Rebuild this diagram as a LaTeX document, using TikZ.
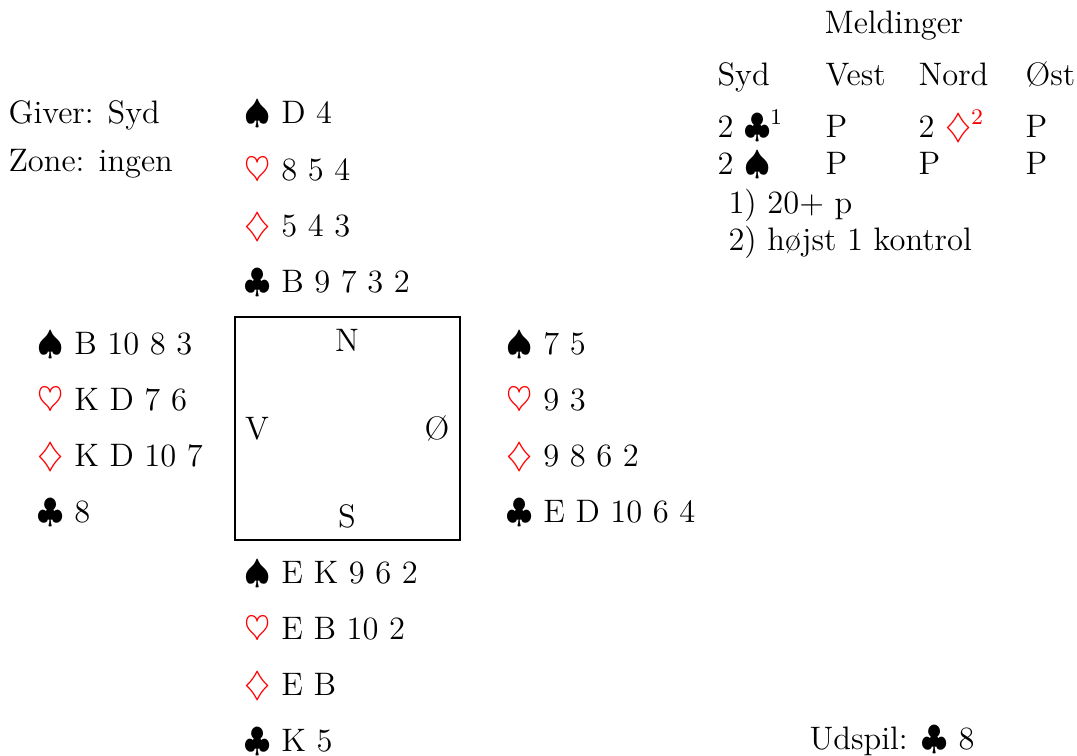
\documentclass[tikz,border=0pt]{standalone}
\usepackage{fontspec}
\usepackage{xcolor}
\newcommand{\Sp}{$\spadesuit$}
\newcommand{\Ht}{\textcolor{red}{$\heartsuit$}}
\newcommand{\Di}{\textcolor{red}{$\diamondsuit$}}
\newcommand{\Cl}{$\clubsuit$}
\tikzset{
  txt/.style={anchor=base west, inner sep=0pt, font=\fontsize{11.6}{14}\selectfont},
  ctxt/.style={anchor=base, inner sep=0pt, font=\fontsize{11.6}{14}\selectfont},
  tablebox/.style={draw, line width=1pt, minimum width=80.3pt, minimum height=79.6pt, inner sep=0pt}
}
\begin{document}
\begin{tikzpicture}[x=0.357pt,y=-0.357pt]
\useasboundingbox (0,0) rectangle (1077,756);
% info
\node[txt] (giver) at (8,123) {Giver: Syd};
\node[txt] (zone) at (8,172) {Zone: ingen};
% north
\node[txt] (ns) at (244,123) {\Sp{} D 4};
\node[txt] (nh) at (244,180) {\Ht{} 8 5 4};
\node[txt] (nd) at (244,236) {\Di{} 5 4 3};
\node[txt] (nc) at (244,292) {\Cl{} B 9 7 3 2};
% west
\node[txt] (ws) at (37,354) {\Sp{} B 10 8 3};
\node[txt] (wh) at (37,410) {\Ht{} K D 7 6};
\node[txt] (wd) at (37,466) {\Di{} K D 10 7};
\node[txt] (wc) at (37,522) {\Cl{} 8};
% east
\node[txt] (es) at (506,354) {\Sp{} 7 5};
\node[txt] (eh) at (506,410) {\Ht{} 9 3};
\node[txt] (ed) at (506,466) {\Di{} 9 8 6 2};
\node[txt] (ec) at (506,522) {\Cl{} E D 10 6 4};
% south
\node[txt] (ss) at (244,583) {\Sp{} E K 9 6 2};
\node[txt] (sh) at (244,639) {\Ht{} E B 10 2};
\node[txt] (sd) at (244,695) {\Di{} E B};
\node[txt] (sc) at (244,751) {\Cl{} K 5};
% table
\node[tablebox] (table) at (347.5,428.5) {};
\node[ctxt] (tn) at (347,351) {N};
\node[ctxt] (tv) at (257,439) {V};
\node[ctxt] (te) at (437,439) {Ø};
\node[ctxt] (ts) at (347,527) {S};
% bidding
\node[ctxt] (meld) at (894,33) {Meldinger};
\node[txt] (h1) at (717,85) {Syd};
\node[txt] (h2) at (825,85) {Vest};
\node[txt] (h3) at (918,85) {Nord};
\node[txt] (h4) at (1025,85) {Øst};
\node[txt] (b11) at (717,137) {2 $\clubsuit^1$};
\node[txt] (b12) at (825,137) {P};
\node[txt] (b13) at (918,137) {2 \textcolor{red}{$\diamondsuit^2$}};
\node[txt] (b14) at (1025,137) {P};
\node[txt] (b21) at (717,175) {2 \Sp};
\node[txt] (b22) at (825,175) {P};
\node[txt] (b23) at (918,175) {P};
\node[txt] (b24) at (1025,175) {P};
\node[txt] (f1) at (728,213) {1) 20+ p};
\node[txt] (f2) at (728,250) {2) højst 1 kontrol};
% lead
\node[txt] (lead) at (809,749) {Udspil: \Cl{} 8};
\end{tikzpicture}
\end{document}
